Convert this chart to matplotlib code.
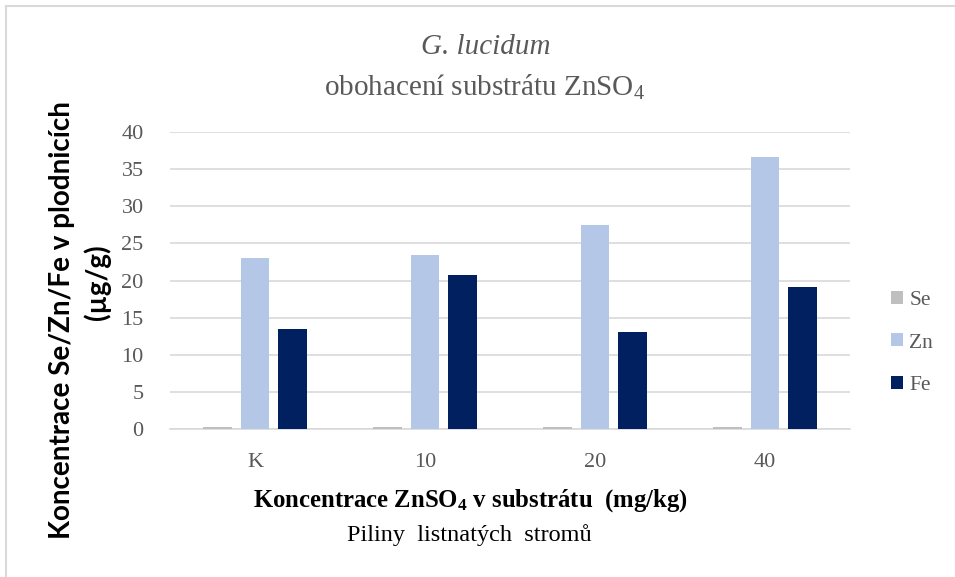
import matplotlib
matplotlib.use("Agg")
import matplotlib.pyplot as plt
import numpy as np
from matplotlib.lines import Line2D

plt.rcParams['mathtext.fontset'] = 'custom'
plt.rcParams['mathtext.rm'] = 'Liberation Serif'
plt.rcParams['mathtext.it'] = 'Liberation Serif:italic'
plt.rcParams['mathtext.bf'] = 'Liberation Serif:bold'

categories = ["K", "10", "20", "40"]
series_names = ["Se", "Zn", "Fe"]
se_values = [0.3, 0.3, 0.3, 0.3]
zn_values = [23.0, 23.4, 27.5, 36.6]
fe_values = [13.5, 20.8, 13.1, 19.1]
y_ticks = [0, 5, 10, 15, 20, 25, 30, 35, 40]

colors = ["#BFBFBF", "#B4C7E7", "#002060"]
grey = "#595959"
serif = "Liberation Serif"

fig = plt.figure(figsize=(9.55, 5.77), dpi=100)
ax = fig.add_axes([170/955, 1-429/577, 680/955, 297/577])

x = np.arange(len(categories))
w = 0.17
off = 0.22
for i, (vals, name) in enumerate(zip([se_values, zn_values, fe_values], series_names)):
    ax.bar(x + (i-1)*off, vals, width=w, color=colors[i], label=name, zorder=3)

ax.set_xlim(-0.5, len(categories)-0.5)
ax.set_ylim(0, 40)
ax.set_yticks(y_ticks)
ax.set_xticks(x)
ax.set_xticklabels(categories)
ax.yaxis.grid(True, color="#D9D9D9", linewidth=1.2, zorder=0)
for s in ["top", "right", "left"]:
    ax.spines[s].set_visible(False)
ax.spines["bottom"].set_color("#D9D9D9")
ax.spines["bottom"].set_linewidth(1.2)
ax.tick_params(axis='both', length=0, labelsize=16, labelcolor=grey)
ax.tick_params(axis='y', pad=19)
ax.tick_params(axis='x', pad=17)
for lab in ax.get_xticklabels() + ax.get_yticklabels():
    lab.set_fontfamily(serif)

# Titles
fig.text(486/955, 1-47/577, "G. lucidum", ha='center', va='center', fontsize=21,
         family=serif, style='italic', color=grey)
fig.text(485/955, 1-87/577, "obohacení substrátu ZnSO$_4$", ha='center', va='center',
         fontsize=21, family=serif, color=grey)

# X axis titles
fig.text(470/955, 1-501/577, r"Koncentrace ZnSO$_\mathbf{4}$ v substrátu  (mg/kg)", ha='center',
         va='center', fontsize=17.8, family=serif, fontweight='bold', color='black')
fig.text(469/955, 1-535/577, "Piliny  listnatých  stromů", ha='center', va='center',
         fontsize=17.5, family=serif, color='black')

# Y axis title
fig.text(62/955, 1-320/577, "Koncentrace Se/Zn/Fe v plodnicích", rotation=90,
         ha='center', va='center', fontsize=20, family='Lato', fontweight='bold', color='black')
fig.text(97/955, 1-282/577, "(µg/g)", rotation=90,
         ha='center', va='center', fontsize=20, family='Lato', fontweight='bold', color='black')

# Legend
leg = ax.legend(loc='center left', bbox_to_anchor=(891/955, 1-343/577),
                bbox_transform=fig.transFigure, frameon=False,
                prop={'family': serif, 'size': 15.5},
                labelspacing=1.09, handlelength=0.55, handleheight=0.55,
                handletextpad=0.3, borderpad=0, borderaxespad=0)
for t in leg.get_texts():
    t.set_color(grey)

# Chart border (top and left visible)
fig.add_artist(Line2D([6/955, 1], [1-6/577, 1-6/577], color="#D9D9D9", linewidth=1.5,
                      transform=fig.transFigure))
fig.add_artist(Line2D([6/955, 6/955], [0, 1-6/577], color="#D9D9D9", linewidth=1.5,
                      transform=fig.transFigure))

fig.savefig("out.png", dpi=100)
